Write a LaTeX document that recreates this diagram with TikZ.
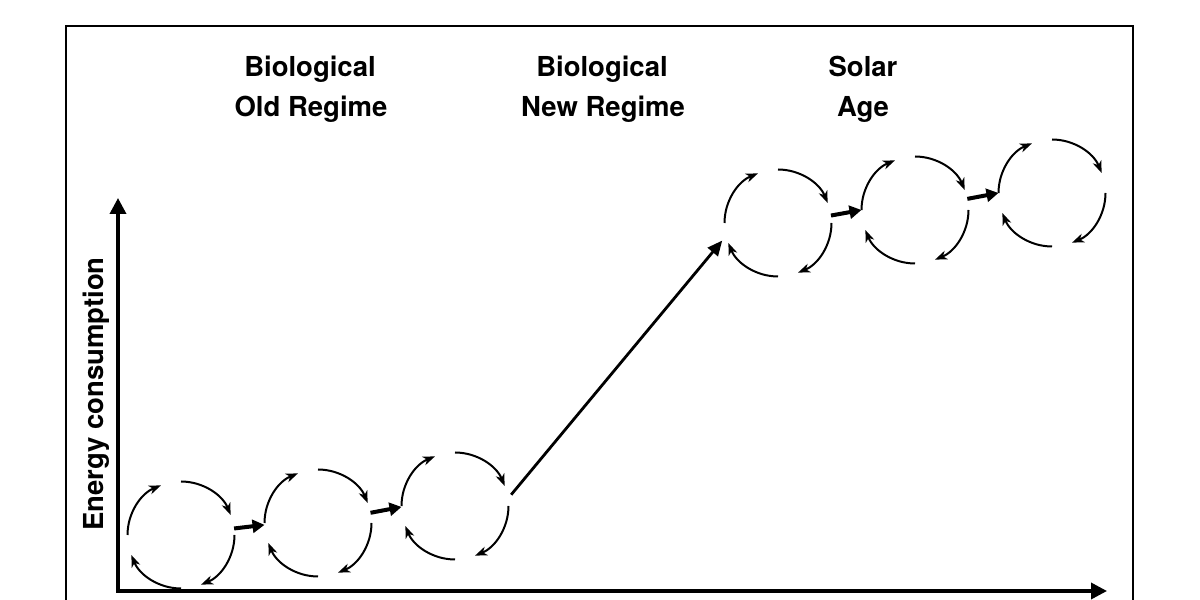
\documentclass[tikz,border=0pt]{standalone}
\usepackage{fontspec}
\setmainfont{TeX Gyre Heros}
\usetikzlibrary{arrows.meta}
\begin{document}
\begin{tikzpicture}[x=1pt,y=1pt,
  cyc/.style={circle, minimum size=107pt, inner sep=0pt, outer sep=0pt},
  loopar/.style={line width=2pt, -{Stealth[length=12pt,width=9pt,inset=3.5pt]}},
  link/.style={line width=4pt, -{Triangle[length=12pt,width=13pt]}},
  longlink/.style={line width=2.8pt, -{Triangle[length=15pt,width=13pt]}, shorten <=5pt, shorten >=6pt},
  axisline/.style={line width=3.5pt, line join=miter, {Triangle[length=16pt,width=16pt]}-{Triangle[length=16pt,width=16pt]}},
  lbl/.style={font=\fontsize{27.5}{38}\selectfont\bfseries, anchor=base, inner sep=0pt}]
\useasboundingbox (0,0) rectangle (1200,600);
% frame
\draw[line width=1.5pt] (66,-2) -- (66,574) -- (1133,574) -- (1133,-2);
% axes
\coordinate (O) at (118,9);
\coordinate (Ytop) at (118,402);
\coordinate (Xend) at (1107,9);
\draw[axisline] (Ytop) -- (O) -- (Xend);
% cycles
\foreach \n/\x/\y in {1/181/65, 2/318/77, 3/455/94, 4/778/377, 5/915/390, 6/1052/407}{
  \node[cyc] (c\n) at (\x,\y) {};
  \foreach \a in {180,90,0,-90}
    \draw[loopar] (c\n.\a) arc[start angle=\a, delta angle=-68, radius=53.5pt];
}
% links
\draw[link] (c1.7) -- (c2.182);
\draw[link] (c2.11) -- (c3.181);
\draw[longlink] (c3.8) -- (c4.194);
\draw[link] (c4.8) -- (c5.180);
\draw[link] (c5.12) -- (c6.180);
% labels
\node[lbl] (t1a) at (310,523) {Biological};
\node[lbl] (t1b) at (311,483) {Old Regime};
\node[lbl] (t2a) at (602,523) {Biological};
\node[lbl] (t2b) at (603,483) {New Regime};
\node[lbl] (t3a) at (863,523) {Solar};
\node[lbl] (t3b) at (863,483) {Age};
\node[lbl, rotate=90] (ylab) at (103,206) {Energy consumption};
\end{tikzpicture}
\end{document}
